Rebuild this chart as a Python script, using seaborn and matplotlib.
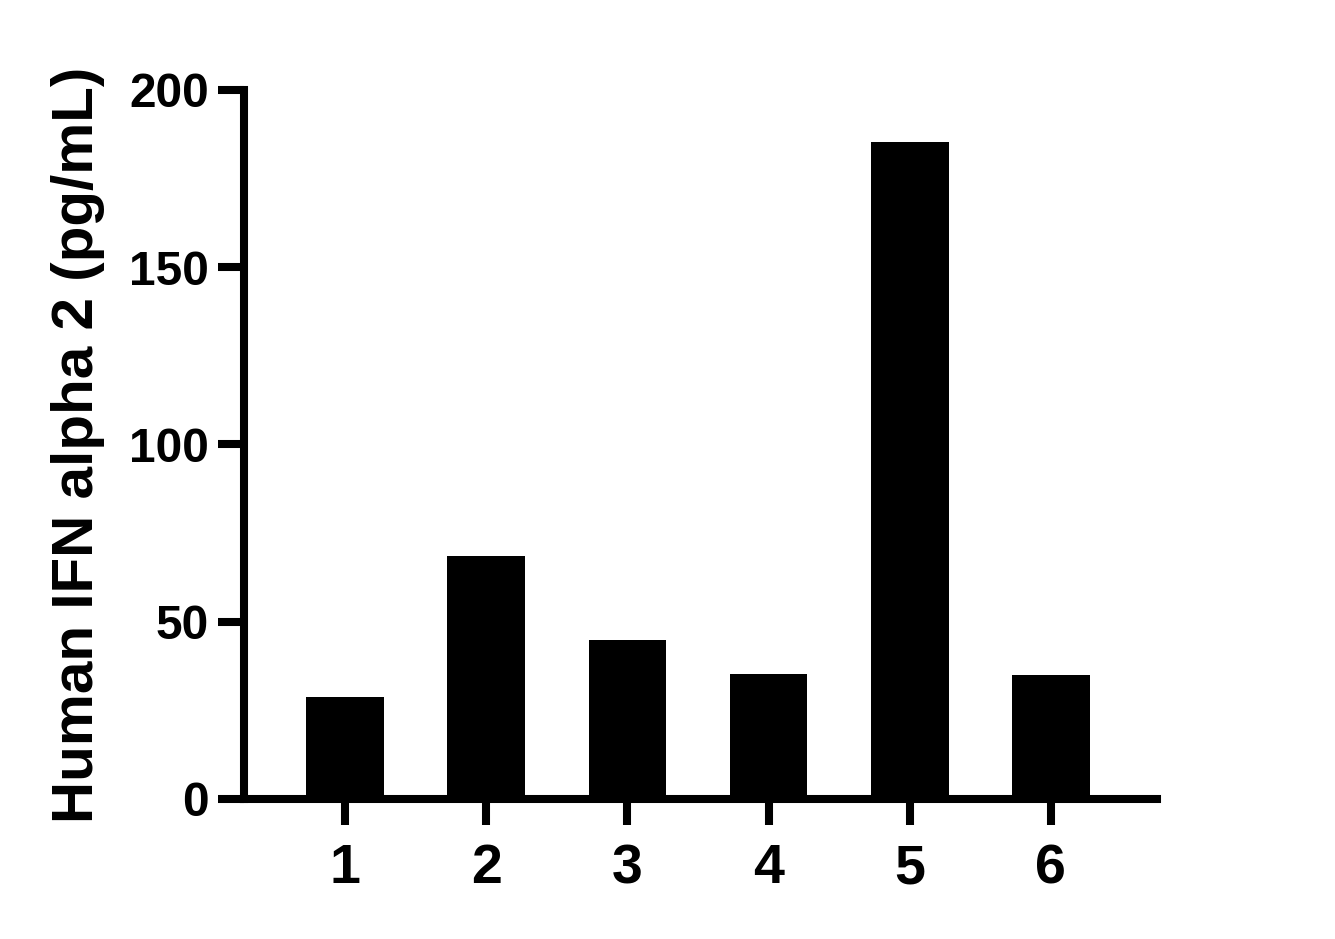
import pandas as pd
import matplotlib
matplotlib.use("Agg")
import matplotlib.pyplot as plt
import seaborn as sns

# values
samples = ["1", "2", "3", "4", "5", "6"]
ifn_alpha2 = [28.8, 68.5, 44.9, 35.3, 185.3, 35.0]
y_ticks = [0, 50, 100, 150, 200]

sns.set_style("ticks")
plt.rcParams['font.family'] = ['Liberation Sans', 'DejaVu Sans']
plt.rcParams['font.weight'] = 'bold'
plt.rcParams['text.color'] = 'black'
plt.rcParams['axes.labelcolor'] = 'black'
plt.rcParams['xtick.color'] = 'black'
plt.rcParams['ytick.color'] = 'black'

df = pd.DataFrame({"sample": samples, "value": ifn_alpha2})

fig = plt.figure(figsize=(13.35, 9.39), dpi=100)
ax = fig.add_axes([0.1824, 0.1491, 0.8665 - 0.1824, 0.9042 - 0.1491])

sns.barplot(data=df, x="sample", y="value", color="black", width=0.55,
            saturation=1, edgecolor="none", ax=ax)

ax.set_xlim(-0.72, 5.75)
ax.set_ylim(0, 200)
ax.set_yticks(y_ticks)
ax.set_xlabel("")
ax.set_ylabel("Human IFN alpha 2 (pg/mL)", fontsize=42, fontweight="bold",
              color="black", labelpad=17)

sns.despine(ax=ax)
for side in ["left", "bottom"]:
    ax.spines[side].set_linewidth(5.8)
    ax.spines[side].set_color("black")

ax.tick_params(axis="both", width=5.8, length=19, color="black", labelcolor="black")
ax.tick_params(axis="y", labelsize=34.5, pad=6)
ax.tick_params(axis="x", labelsize=40, pad=13)
for lbl in ax.get_xticklabels() + ax.get_yticklabels():
    lbl.set_fontweight("bold")

fig.savefig("out.png", dpi=100)
